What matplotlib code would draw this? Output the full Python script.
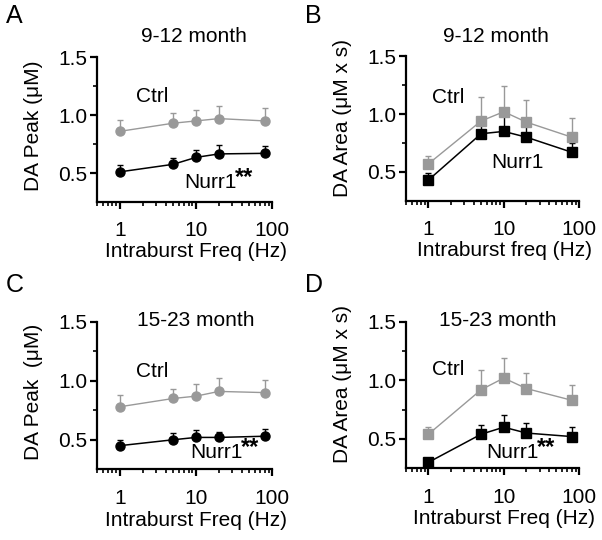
import matplotlib
matplotlib.use("Agg")
import matplotlib.pyplot as plt
from matplotlib.ticker import LogLocator, NullFormatter, FixedLocator

plt.rcParams['font.family'] = ['Liberation Sans', 'DejaVu Sans']

# data
freqs = [1, 5, 10, 20, 80]

# A: DA peak, 9-12 month
a_ctrl = [0.86, 0.93, 0.95, 0.97, 0.95]
a_ctrl_err = [0.095, 0.085, 0.095, 0.11, 0.115]
a_nurr = [0.51, 0.575, 0.635, 0.665, 0.67]
a_nurr_err = [0.06, 0.055, 0.065, 0.075, 0.065]

# B: DA area, 9-12 month
b_ctrl = [0.57, 0.94, 1.02, 0.93, 0.80]
b_ctrl_err = [0.07, 0.21, 0.22, 0.19, 0.17]
b_nurr = [0.43, 0.83, 0.85, 0.80, 0.67]
b_nurr_err = [0.06, 0.09, 0.14, 0.12, 0.08]

# C: DA peak, 15-23 month
c_ctrl = [0.78, 0.85, 0.87, 0.91, 0.90]
c_ctrl_err = [0.10, 0.08, 0.10, 0.11, 0.11]
c_nurr = [0.45, 0.50, 0.52, 0.52, 0.53]
c_nurr_err = [0.05, 0.06, 0.06, 0.05, 0.06]

# D: DA area, 15-23 month
d_ctrl = [0.54, 0.92, 1.02, 0.93, 0.83]
d_ctrl_err = [0.06, 0.17, 0.17, 0.13, 0.13]
d_nurr = [0.30, 0.54, 0.60, 0.55, 0.52]
d_nurr_err = [0.0, 0.08, 0.10, 0.09, 0.08]

GRAY = '#999999'
FS = 15

fig = plt.figure(figsize=(6.02, 5.40), dpi=100)


def panel(rect, ctrl, ctrl_err, nurr, nurr_err, marker, ylabel, xlabel,
          ylab_y, ctrl_pos, nurr_pos, stars):
    ax = fig.add_axes(rect)
    ax.errorbar(freqs, nurr, yerr=[[0] * len(nurr), nurr_err], color='black',
                marker=marker, ms=6.5, lw=1.1, elinewidth=1.0, capsize=2.5,
                capthick=1.0, zorder=3)
    ax.errorbar(freqs, ctrl, yerr=[[0] * len(ctrl), ctrl_err], color=GRAY,
                marker=marker, ms=6.5, lw=1.0, elinewidth=1.0, capsize=2.5,
                capthick=1.0, zorder=4)
    ax.set_xscale('log')
    ax.set_xlim(0.5, 100)
    ax.set_ylim(0.25, 1.5)
    ax.xaxis.set_major_locator(FixedLocator([1, 10, 100]))
    ax.set_xticklabels(['1', '10', '100'])
    ax.xaxis.set_minor_locator(LogLocator(base=10, subs=range(2, 10)))
    ax.xaxis.set_minor_formatter(NullFormatter())
    ax.set_yticks([0.5, 1.0, 1.5])
    ax.set_yticklabels(['0.5', '1.0', '1.5'])
    ax.set_yticks([0.75, 1.25], minor=True)
    for s in ['top', 'right']:
        ax.spines[s].set_visible(False)
    for s in ['left', 'bottom']:
        ax.spines[s].set_linewidth(1.6)
    ax.tick_params(which='major', direction='out', length=5, width=1.6,
                   labelsize=15)
    ax.tick_params(axis='x', which='major', pad=9)
    ax.tick_params(axis='y', which='major', pad=2)
    ax.tick_params(which='minor', direction='out', length=3, width=1.2)
    ax.set_xlabel(xlabel, fontsize=FS)
    ax.xaxis.set_label_coords(0.567, -0.28)
    ax.set_ylabel(ylabel, fontsize=FS)
    ax.yaxis.set_label_coords(-0.31, ylab_y)
    ax.text(ctrl_pos[0], ctrl_pos[1], 'Ctrl', fontsize=FS, ha='left',
            va='center')
    t = ax.text(nurr_pos[0], nurr_pos[1], 'Nurr1', fontsize=FS, ha='left',
                va='center')
    if stars:
        ax.annotate('**', xy=(1, 0.5), xycoords=t, xytext=(-1.5, 4),
                    textcoords='offset points', fontsize=17,
                    fontweight='bold', ha='left', va='center')
    return ax


panel([0.161, 0.626, 0.291, 0.268], a_ctrl, a_ctrl_err, a_nurr, a_nurr_err,
      'o', 'DA Peak (μM)', 'Intraburst Freq (Hz)', 0.524,
      (1.63, 1.158), (7.05, 0.414), True)
panel([0.674, 0.628, 0.288, 0.268], b_ctrl, b_ctrl_err, b_nurr, b_nurr_err,
      's', 'DA Area (μM x s)', 'Intraburst freq (Hz)', 0.572,
      (1.1, 1.147), (6.8, 0.578), False)
panel([0.161, 0.131, 0.291, 0.273], c_ctrl, c_ctrl_err, c_nurr, c_nurr_err,
      'o', 'DA Peak  (μM)', 'Intraburst Freq (Hz)', 0.524,
      (1.63, 1.078), (8.5, 0.388), True)
panel([0.674, 0.133, 0.288, 0.271], d_ctrl, d_ctrl_err, d_nurr, d_nurr_err,
      's', 'DA Area (μM x s)', 'Intraburst Freq (Hz)', 0.572,
      (1.1, 1.095), (5.9, 0.38), True)

# titles
fig.text(0.322, 0.932, '9-12 month', fontsize=FS, ha='center', va='center')
fig.text(0.824, 0.932, '9-12 month', fontsize=FS, ha='center', va='center')
fig.text(0.325, 0.406, '15-23 month', fontsize=FS, ha='center', va='center')
fig.text(0.826, 0.406, '15-23 month', fontsize=FS, ha='center', va='center')

# panel letters
fig.text(0.024, 0.970, 'A', fontsize=18, ha='center', va='center')
fig.text(0.521, 0.970, 'B', fontsize=18, ha='center', va='center')
fig.text(0.024, 0.473, 'C', fontsize=18, ha='center', va='center')
fig.text(0.521, 0.473, 'D', fontsize=18, ha='center', va='center')

fig.savefig('out.png', dpi=100)
